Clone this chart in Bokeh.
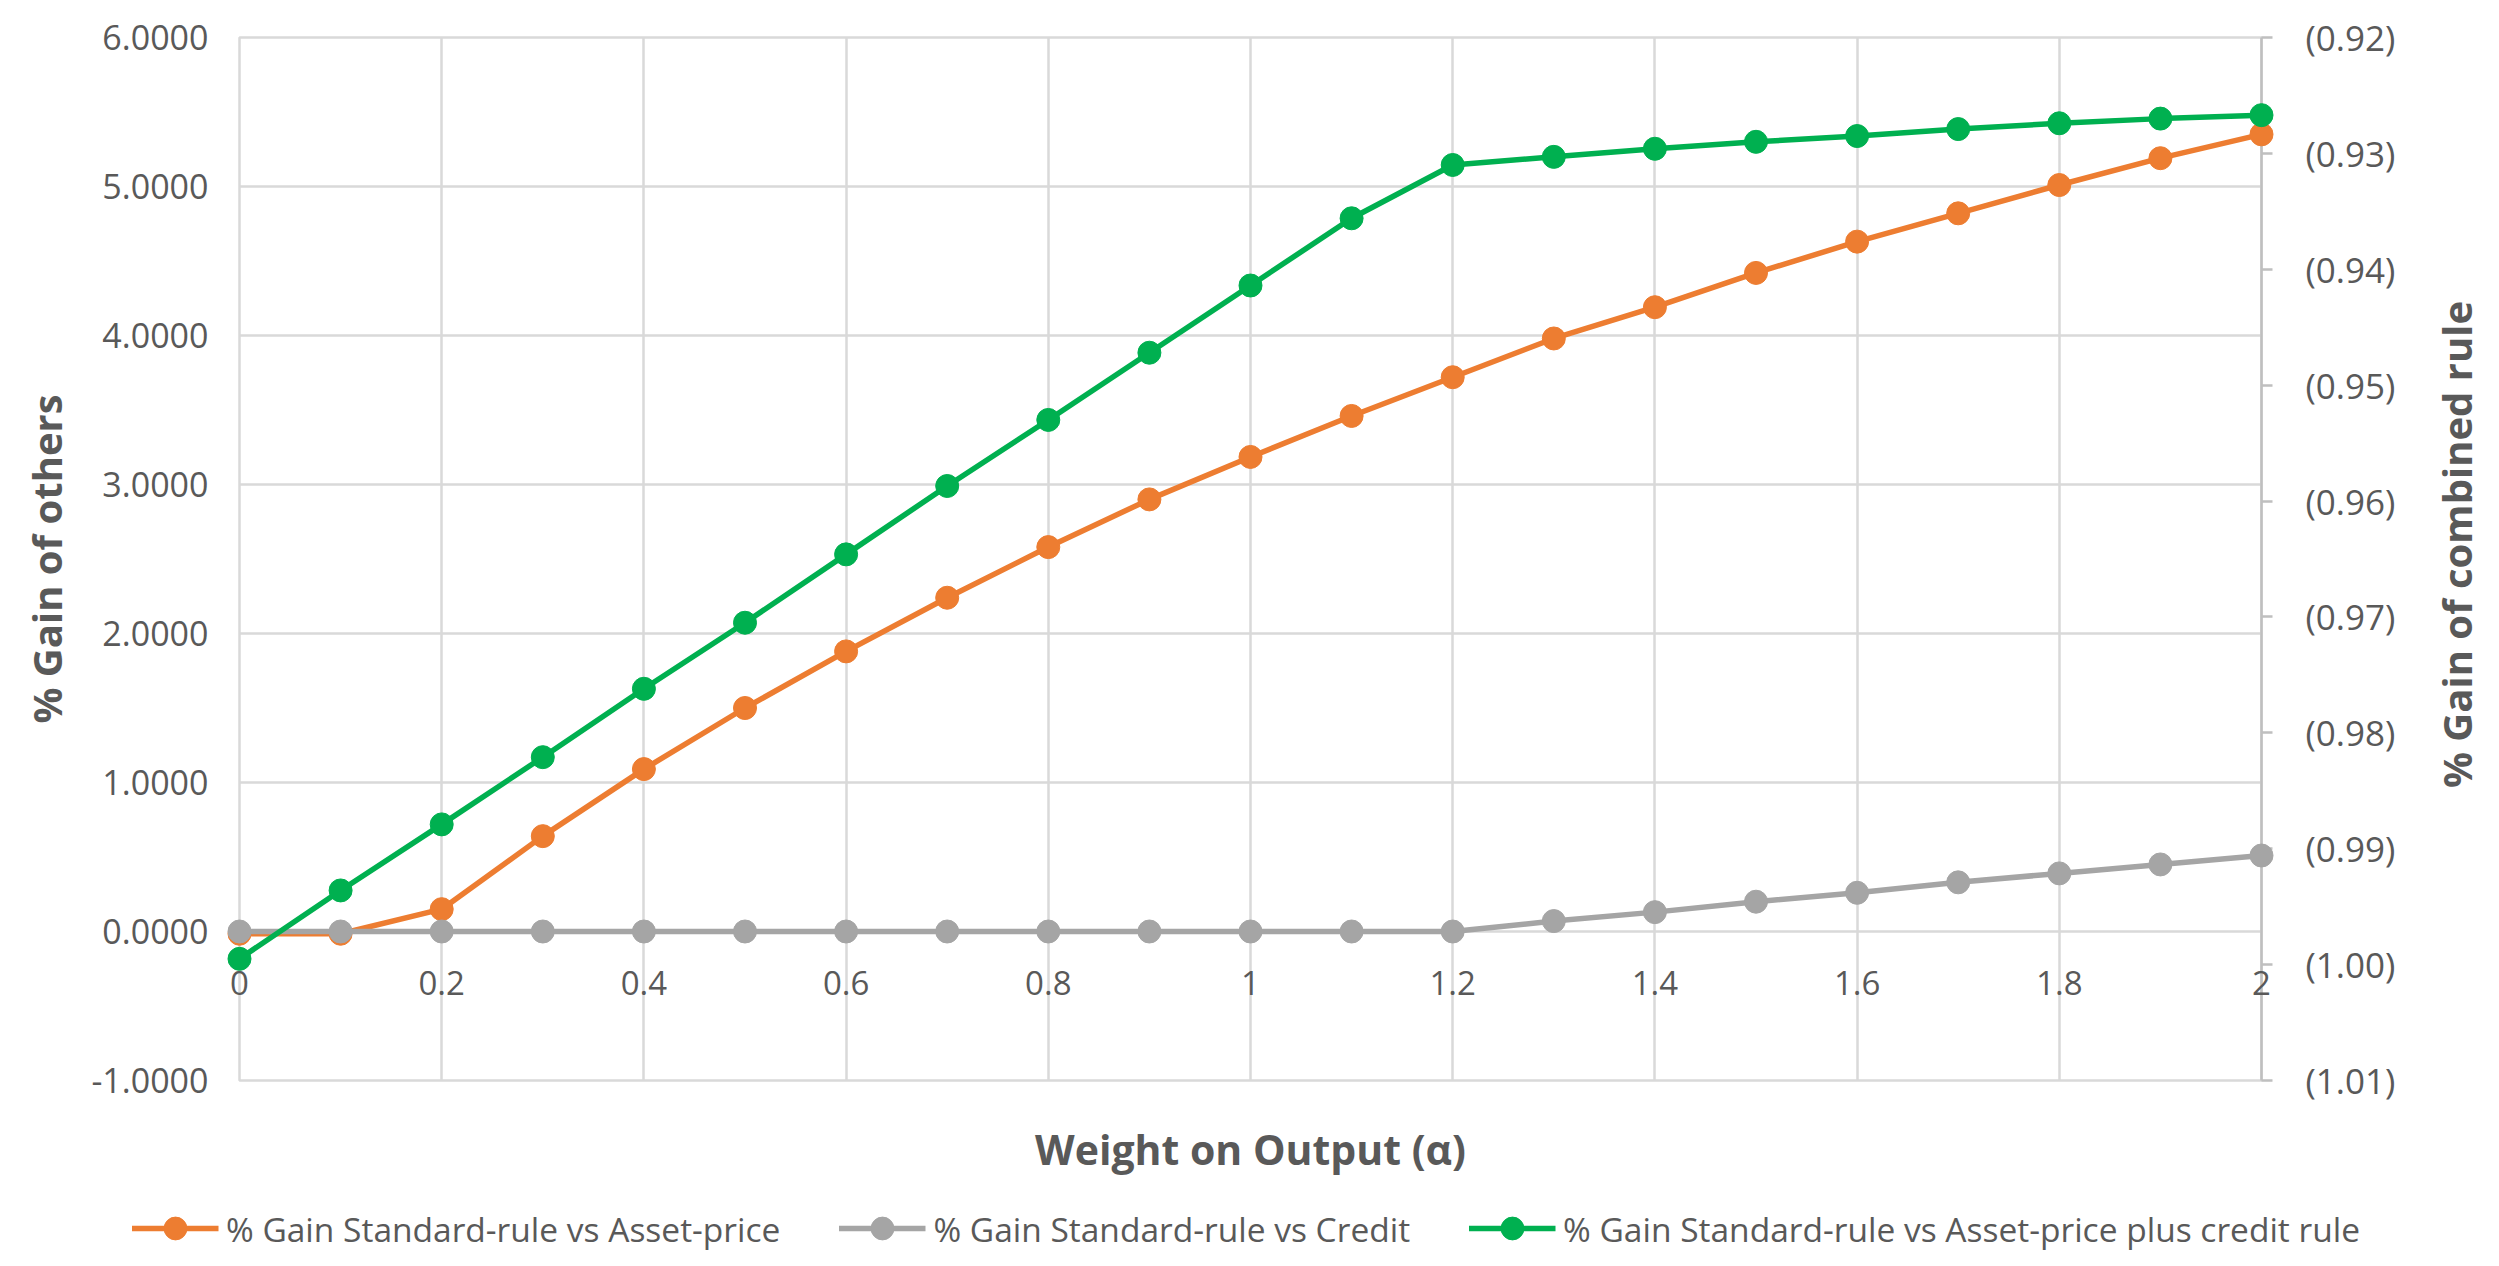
import math
from bokeh.plotting import figure
from bokeh.layouts import row, column
from bokeh.models import (Range1d, LinearAxis, FixedTicker, CustomJSTickFormatter, Grid,
                          Legend, LegendItem, ColumnDataSource)
from bokeh.embed import file_html
from bokeh.resources import INLINE
from bokeh.core.properties import value

# ---------------- data ----------------
alpha = [0.0, 0.1, 0.2, 0.3, 0.4, 0.5, 0.6, 0.7, 0.8, 0.9, 1.0,
         1.1, 1.2, 1.3, 1.4, 1.5, 1.6, 1.7, 1.8, 1.9, 2.0]
gain_asset_price = [-0.015, -0.015, 0.15, 0.64, 1.09, 1.50, 1.88, 2.24, 2.58, 2.90, 3.185,
                    3.46, 3.72, 3.98, 4.19, 4.42, 4.63, 4.82, 5.01, 5.19, 5.35]
gain_credit = [0.0, 0.0, 0.0, 0.0, 0.0, 0.0, 0.0, 0.0, 0.0, 0.0, 0.0,
               0.0, 0.0, 0.07, 0.13, 0.20, 0.26, 0.33, 0.39, 0.45, 0.51]
gain_combined = [-0.9995, -0.9936, -0.9879, -0.9821, -0.9762, -0.9705, -0.9646, -0.9587, -0.9530, -0.9472, -0.9414,
                 -0.9356, -0.9310, -0.9303, -0.9296, -0.9290, -0.9285, -0.9279, -0.9274, -0.9270, -0.9267]

x_ticks = [0.0, 0.2, 0.4, 0.6, 0.8, 1.0, 1.2, 1.4, 1.6, 1.8, 2.0]
x_tick_labels = ["0", "0.2", "0.4", "0.6", "0.8", "1", "1.2", "1.4", "1.6", "1.8", "2"]
x_axis_cross = [0.0] * len(x_ticks)
left_ticks = [-1, 0, 1, 2, 3, 4, 5, 6]
right_ticks = [-1.01, -1.00, -0.99, -0.98, -0.97, -0.96, -0.95, -0.94, -0.93, -0.92]

series_names = ["% Gain Standard-rule vs Asset-price",
                "% Gain Standard-rule vs Credit",
                "% Gain Standard-rule vs Asset-price plus credit rule"]

ORANGE = "#ED7D31"
GRAY = "#A5A5A5"
GREEN = "#00B050"
TEXT = "#595959"
GRID = "#D9D9D9"
FONT = "Open Sans"
LW = 5.5
MS = 23

src = ColumnDataSource(dict(alpha=alpha, ap=gain_asset_price, cr=gain_credit, cb=gain_combined))

# ---------------- main figure ----------------
p = figure(frame_width=2022, frame_height=1043,
           x_range=Range1d(0, 2), y_range=Range1d(-1, 6),
           x_axis_location=None, y_axis_location=None,
           output_backend="svg", toolbar_location=None,
           min_border_left=239, min_border_right=164,
           min_border_top=37, min_border_bottom=110)
p.grid.visible = False
p.extra_y_ranges = {"right": Range1d(-1.01, -0.92)}
p.outline_line_color = GRID
p.outline_line_width = 2.5
p.background_fill_color = "white"
p.border_fill_color = "white"

# grids
p.add_layout(Grid(dimension=0, ticker=FixedTicker(ticks=x_ticks),
                  grid_line_color=GRID, grid_line_width=2.5))
p.add_layout(Grid(dimension=1, ticker=FixedTicker(ticks=left_ticks),
                  grid_line_color=GRID, grid_line_width=2.5))

# left axis
left = LinearAxis(ticker=FixedTicker(ticks=left_ticks),
                  formatter=CustomJSTickFormatter(code="return tick.toFixed(4);"),
                  axis_label="% Gain of others")
left.axis_line_color = None
left.major_tick_line_color = None
left.minor_tick_line_color = None
left.major_tick_out = 0
left.major_tick_in = 0
left.major_label_standoff = 31
left.major_label_text_font = FONT
left.major_label_text_font_size = "34px"
left.major_label_text_color = TEXT
left.axis_label_text_font = FONT
left.axis_label_text_font_style = "bold"
left.axis_label_text_font_size = "40px"
left.axis_label_text_color = TEXT
left.axis_label_standoff = 14
p.add_layout(left, "left")

# right axis (ticks and labels; its title is carried by the side strip)
right = LinearAxis(y_range_name="right", ticker=FixedTicker(ticks=right_ticks),
                   formatter=CustomJSTickFormatter(code='return "(" + Math.abs(tick).toFixed(2) + ")";'))
right.axis_line_color = "#BFBFBF"
right.axis_line_width = 2.5
right.major_tick_line_color = "#BFBFBF"
right.major_tick_line_width = 2.5
right.major_tick_in = 0
right.major_tick_out = 11
right.minor_tick_line_color = None
right.major_label_standoff = 33
right.major_label_text_font = FONT
right.major_label_text_font_size = "35px"
right.major_label_text_color = TEXT
p.add_layout(right, "right")

# bottom axis (title only; tick labels sit at the y=0 crossing)
below = LinearAxis(ticker=FixedTicker(ticks=[]), axis_label="Weight on Output (α)")
below.axis_line_color = None
below.major_tick_line_color = None
below.minor_tick_line_color = None
below.major_tick_out = 0
below.major_label_standoff = 0
below.axis_label_text_font = FONT
below.axis_label_text_font_style = "bold"
below.axis_label_text_font_size = "41px"
below.axis_label_text_color = TEXT
below.axis_label_standoff = 40
p.add_layout(below, "below")

xl = p.text(x=x_ticks, y=x_axis_cross, text=x_tick_labels,
            text_align="center", text_baseline="middle", y_offset=51,
            text_font=value(FONT), text_font_size="33px", text_color=TEXT)
xl.level = "overlay"

# ---------------- series ----------------
l1 = p.line("alpha", "ap", source=src, line_color=ORANGE, line_width=LW)
s1 = p.scatter("alpha", "ap", source=src, size=MS, fill_color=ORANGE, line_color=ORANGE)
l2 = p.line("alpha", "cr", source=src, line_color=GRAY, line_width=LW)
s2 = p.scatter("alpha", "cr", source=src, size=MS, fill_color=GRAY, line_color=GRAY)
l3 = p.line("alpha", "cb", source=src, line_color=GREEN, line_width=LW, y_range_name="right")
s3 = p.scatter("alpha", "cb", source=src, size=MS, fill_color=GREEN, line_color=GREEN, y_range_name="right")
for r in (l1, s1, l2, s2, l3, s3):
    r.level = "overlay"

# ---------------- side strip carrying the secondary-axis title ----------------
p2 = figure(frame_width=1, frame_height=1014,
            x_range=Range1d(0, 1), y_range=Range1d(0, 1),
            x_axis_location=None, y_axis_location=None,
            output_backend="svg", toolbar_location=None,
            min_border_left=59, min_border_right=0,
            min_border_top=37, min_border_bottom=139)
p2.grid.visible = False
p2.outline_line_color = None
rt = LinearAxis(ticker=FixedTicker(ticks=[]), axis_label="% Gain of combined rule")
rt.axis_line_color = None
rt.major_tick_line_color = None
rt.minor_tick_line_color = None
rt.major_tick_out = 0
rt.major_label_standoff = 0
rt.axis_label_standoff = 5
rt.axis_label_text_font = FONT
rt.axis_label_text_font_style = "bold"
rt.axis_label_text_font_size = "40px"
rt.axis_label_text_color = TEXT
p2.add_layout(rt, "left")

# ---------------- legend strip (series proxies lie outside its view) ----------------
p3 = figure(frame_width=2491, frame_height=76,
            x_range=Range1d(10, 11), y_range=Range1d(10, 11),
            x_axis_location=None, y_axis_location=None,
            output_backend="svg", toolbar_location=None,
            min_border=0)
p3.grid.visible = False
p3.outline_line_color = None
k1 = p3.line("alpha", "ap", source=src, line_color=ORANGE, line_width=LW)
k1s = p3.scatter("alpha", "ap", source=src, size=MS, fill_color=ORANGE, line_color=ORANGE)
k2 = p3.line("alpha", "cr", source=src, line_color=GRAY, line_width=LW)
k2s = p3.scatter("alpha", "cr", source=src, size=MS, fill_color=GRAY, line_color=GRAY)
k3 = p3.line("alpha", "cb", source=src, line_color=GREEN, line_width=LW)
k3s = p3.scatter("alpha", "cb", source=src, size=MS, fill_color=GREEN, line_color=GREEN)

legend = Legend(items=[LegendItem(label=series_names[0], renderers=[k1, k1s]),
                       LegendItem(label=series_names[1], renderers=[k2, k2s]),
                       LegendItem(label=series_names[2], renderers=[k3, k3s])],
                orientation="horizontal", location="center",
                glyph_width=87, glyph_height=57, label_standoff=8, spacing=58,
                padding=0, margin=0, border_line_color=None, background_fill_alpha=0,
                label_text_font=FONT, label_text_font_size="33.5px", label_text_color=TEXT)
p3.add_layout(legend)

layout = column(row(p, p2), p3)
open("out.html", "w").write(file_html(layout, INLINE))
